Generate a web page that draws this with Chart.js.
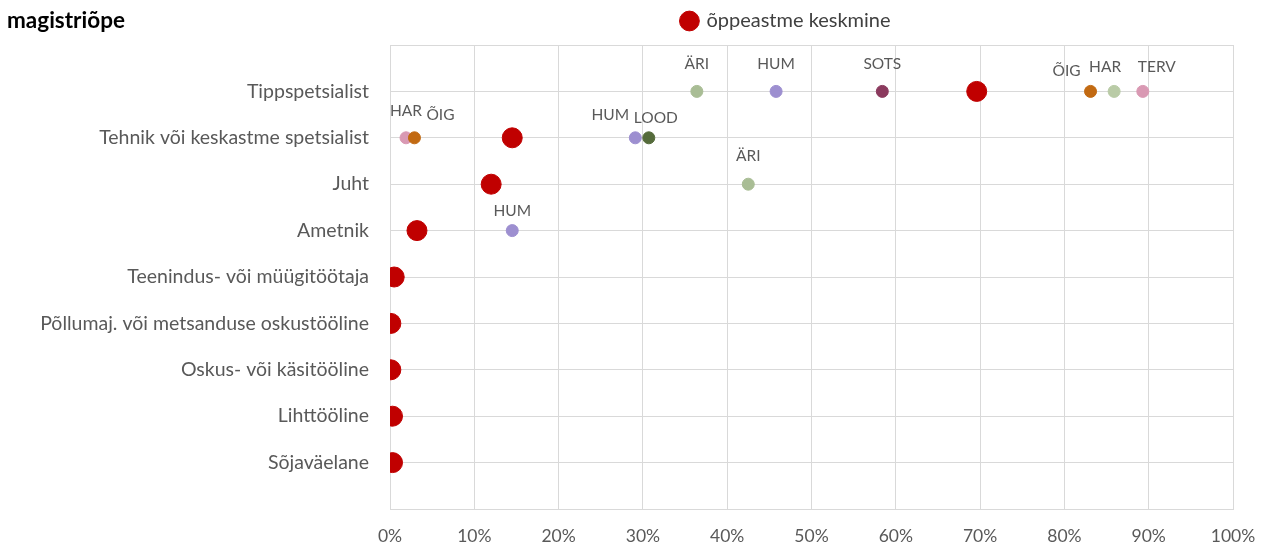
<!DOCTYPE html>
<html>
<head>
<meta charset="utf-8">
<script src="https://cdn.jsdelivr.net/npm/chart.js@4/dist/chart.umd.min.js"></script>
<style>
  html, body { margin: 0; padding: 0; background: #fff; }
  #wrap { position: relative; width: 1266px; height: 545px; }
  #title {
    position: absolute; left: 7px; top: 6px;
    font-family: Lato, sans-serif; font-weight: bold; font-size: 22.5px; color: #000;
  }
</style>
</head>
<body>
<div id="wrap">
  <canvas id="chartContainer" width="1266" height="545"></canvas>
  <div id="title">magistriõpe</div>
</div>
<script>
// kategooriad ülevalt alla
const categories = [
  'Tippspetsialist',
  'Tehnik või keskastme spetsialist',
  'Juht',
  'Ametnik',
  'Teenindus- või müügitöötaja',
  'Põllumaj. või metsanduse oskustööline',
  'Oskus- või käsitööline',
  'Lihttööline',
  'Sõjaväelane'
];

// õppeastme keskmine, %
const avgValues = [69.6, 14.5, 12.0, 3.2, 0.5, 0.1, 0.1, 0.3, 0.3];

// õppevaldkonnad
const fieldNames = ['ÄRI', 'HUM', 'SOTS', 'ÕIG', 'HAR', 'TERV', 'HAR', 'ÕIG', 'HUM', 'LOOD', 'ÄRI', 'HUM'];
const fieldCategory = [0, 0, 0, 0, 0, 0, 1, 1, 1, 1, 2, 3];
const fieldValues = [36.4, 45.8, 58.4, 83.1, 85.9, 89.3, 1.9, 2.9, 29.1, 30.7, 42.5, 14.5];

const xTicks = [0, 10, 20, 30, 40, 50, 60, 70, 80, 90, 100];

// stiilid
const fieldColors = ['#A9BD95', '#9D8FD0', '#8B3A5E', '#C26A12', '#B9CBA6', '#D999B3',
  '#D999B3', '#C26A12', '#9D8FD0', '#556B3B', '#A9BD95', '#9D8FD0'];
const labelShift = [[0, -27], [0, -27], [0, -27], [-24, -20], [-9, -24], [14, -24],
  [0, -27], [26, -23], [-25, -23], [7, -20], [0, -28], [0, -20]];

const labelsPlugin = {
  id: 'fieldLabels',
  afterLayout(chart) {
    // legend a bit left and up, like in the original
    chart.legend.left -= 25;
    chart.legend.right -= 25;
    chart.legend.top -= 4;
  },
  afterDatasetsDraw(chart) {
    const ctx = chart.ctx;
    const meta = chart.getDatasetMeta(1);
    ctx.save();
    ctx.font = '15.5px Lato, sans-serif';
    ctx.fillStyle = '#595959';
    ctx.textAlign = 'center';
    ctx.textBaseline = 'middle';
    meta.data.forEach((el, i) => {
      ctx.fillText(fieldNames[i], el.x + labelShift[i][0], el.y + labelShift[i][1]);
    });
    ctx.restore();
  }
};

Chart.defaults.font.family = 'Lato, sans-serif';
Chart.defaults.color = '#595959';

new Chart(document.getElementById('chartContainer'), {
  type: 'scatter',
  data: {
    datasets: [
      {
        label: 'õppeastme keskmine',
        data: avgValues.map((v, i) => ({ x: v, y: i + 1 })),
        backgroundColor: '#C00000',
        borderColor: '#C00000',
        pointRadius: 10,
        pointHoverRadius: 10,
      },
      {
        label: 'valdkonnad',
        data: fieldValues.map((v, i) => ({ x: v, y: fieldCategory[i] + 1 })),
        backgroundColor: fieldColors,
        borderColor: fieldColors,
        pointRadius: 6,
        pointHoverRadius: 6,
      }
    ]
  },
  options: {
    responsive: false,
    animation: false,
    layout: { padding: { top: 5, right: 0, left: 0, bottom: 0 } },
    plugins: {
      tooltip: { enabled: false },
      legend: {
        fullSize: false,
        labels: {
          filter: (item) => item.datasetIndex === 0,
          usePointStyle: true,
          pointStyle: 'circle',
          boxWidth: 14,
          boxHeight: 14,
          padding: 10,
          color: '#404040',
          font: { size: 20 }
        }
      }
    },
    scales: {
      x: {
        type: 'linear',
        min: 0,
        max: 100,
        afterBuildTicks: (scale) => { scale.ticks = xTicks.map(v => ({ value: v })); },
        afterFit: (scale) => {
          scale.height = 36;
          scale.paddingRight = 33;
        },
        grid: { color: '#D9D9D9', drawTicks: false },
        border: { color: '#D9D9D9' },
        ticks: {
          padding: 17,
          color: '#595959',
          font: { size: 17.5 },
          callback: (v) => v + '%'
        }
      },
      y: {
        type: 'linear',
        min: 0,
        max: 10,
        reverse: true,
        afterFit: (scale) => { scale.width = 390; },
        grid: { color: '#D9D9D9', drawTicks: false },
        border: { color: '#D9D9D9' },
        ticks: {
          stepSize: 1,
          padding: 21,
          color: '#595959',
          font: { size: 19.5 },
          callback: (v) => categories[v - 1] || ''
        }
      }
    }
  },
  plugins: [labelsPlugin]
});
</script>
</body>
</html>
